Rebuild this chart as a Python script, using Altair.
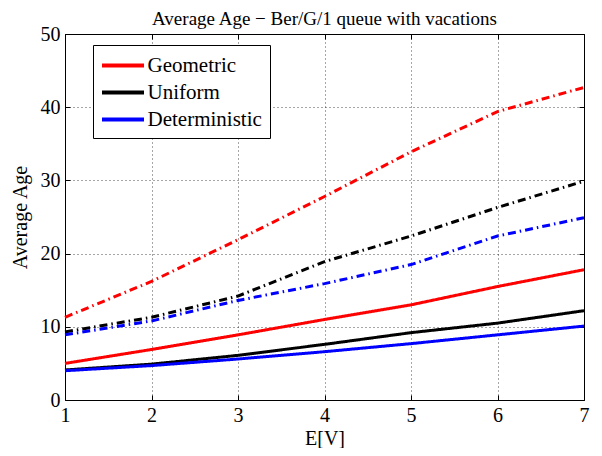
import altair as alt
import pandas as pd

ev = [1, 2, 3, 4, 5, 6, 7]
y_ticks = [0, 10, 20, 30, 40, 50]
series = ["Geometric", "Uniform", "Deterministic"]
colors = ["#ff0000", "#000000", "#0000ff"]

# solid lines
geo_solid = [5.0, 6.9, 8.9, 11.0, 13.0, 15.5, 17.8]
uni_solid = [4.1, 4.9, 6.1, 7.6, 9.2, 10.5, 12.2]
det_solid = [4.0, 4.7, 5.6, 6.6, 7.7, 8.9, 10.1]
# dash-dot lines
geo_dash = [11.3, 16.2, 21.9, 27.8, 33.9, 39.4, 42.7]
uni_dash = [9.3, 11.3, 14.2, 18.9, 22.4, 26.3, 29.9]
det_dash = [8.9, 10.8, 13.6, 15.9, 18.5, 22.4, 24.9]

rows = []
for name, kind, vals in [
    ("Geometric", "solid", geo_solid),
    ("Uniform", "solid", uni_solid),
    ("Deterministic", "solid", det_solid),
    ("Geometric", "dashdot", geo_dash),
    ("Uniform", "dashdot", uni_dash),
    ("Deterministic", "dashdot", det_dash),
]:
    for x, y in zip(ev, vals):
        rows.append({"ev": x, "age": y, "series": name, "kind": kind})
df = pd.DataFrame(rows)

font = "Liberation Serif"
xscale = alt.Scale(domain=[1, 7], nice=False)
yscale = alt.Scale(domain=[0, 50], nice=False)

lines = alt.Chart(df).mark_line(strokeWidth=3).encode(
    x=alt.X("ev:Q", scale=xscale,
            axis=alt.Axis(title="E[V]", values=ev, format="d", orient="bottom",
                          offset=-5, domain=False, tickSize=5, grid=True,
                          labelFlush=False)),
    y=alt.Y("age:Q", scale=yscale,
            axis=alt.Axis(title="Average Age", values=y_ticks, orient="left",
                          offset=-5, domain=False, tickSize=5, grid=True,
                          labelFlush=False)),
    color=alt.Color("series:N", scale=alt.Scale(domain=series, range=colors),
                    legend=alt.Legend(title=None, orient="none", legendX=28, legendY=11)),
    strokeDash=alt.StrokeDash("kind:N", scale=alt.Scale(domain=["solid", "dashdot"],
                              range=[[1, 0], [8, 4, 1.5, 4]]), legend=None),
    detail="kind:N",
)

frame_ticks = alt.Chart(df).mark_line(opacity=0).encode(
    x=alt.X("ev:Q", scale=xscale,
            axis=alt.Axis(title=None, values=ev, orient="top", labels=False,
                          offset=-5, domain=False, tickSize=5, grid=False)),
    y=alt.Y("age:Q", scale=yscale,
            axis=alt.Axis(title=None, values=y_ticks, orient="right", labels=False,
                          offset=-5, domain=False, tickSize=5, grid=False)),
    detail="series:N",
)

chart = alt.layer(lines, frame_ticks).resolve_axis(
    x="independent", y="independent"
).properties(
    width=519, height=366,
    title=alt.Title("Average Age \u2212 Ber/G/1 queue with vacations",
                    font=font, fontSize=19, fontWeight="normal", offset=0, dy=5),
    autosize=alt.AutoSizeParams(type="none"),
    padding={"left": 57, "top": 26, "right": 10, "bottom": 48},
).configure_view(
    stroke="black", strokeWidth=1
).configure_axis(
    labelFont=font, labelFontSize=20, labelColor="black",
    titleFont=font, titleFontSize=20, titleFontWeight="normal", titleColor="black",
    tickColor="black",
    gridColor="black", gridDash=[1, 3], gridOpacity=0.7,
).configure_axisX(
    labelPadding=5, titlePadding=3,
).configure_axisY(
    labelPadding=5, titlePadding=10,
).configure_legend(
    strokeColor="black", fillColor="white", padding=8,
    symbolType="M-2,0H2", symbolStrokeWidth=4, symbolSize=441, symbolOffset=9.5,
    labelFont=font, labelFontSize=21, labelColor="black",
    labelOffset=12, rowPadding=4,
)

chart.save("out.html", embed_options={"renderer": "svg", "actions": False})
